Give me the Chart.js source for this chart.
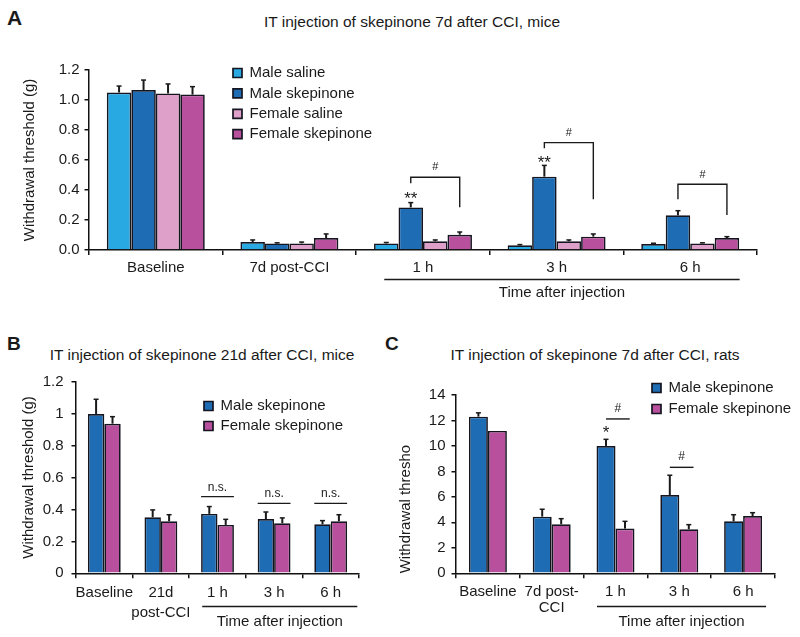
<!DOCTYPE html>
<html><head><meta charset="utf-8">
<script src="https://cdn.jsdelivr.net/npm/chart.js@4.4.1/dist/chart.umd.min.js"></script>
<style>
html,body{margin:0;padding:0;background:#fff;width:800px;height:637px;overflow:hidden;font-family:"Liberation Sans",Arial,sans-serif;color:#1a1a1a}
canvas{position:absolute}
.ttl{position:absolute;font-size:15.5px;line-height:18px;white-space:nowrap;transform:translateX(-50%)}
.let{position:absolute;font-weight:bold}
</style></head><body>
<div class="let" style="left:7px;top:7px;font-size:21px;line-height:21px">A</div>
<div class="ttl" style="left:412px;top:13px">IT injection of skepinone 7d after CCI, mice</div>
<div class="let" style="left:7px;top:334px;font-size:19px;line-height:19px">B</div>
<div class="ttl" style="left:202px;top:346px">IT injection of skepinone 21d after CCI, mice</div>
<div class="let" style="left:385px;top:334px;font-size:19px;line-height:19px">C</div>
<div class="ttl" style="left:595px;top:346px">IT injection of skepinone 7d after CCI, rats</div>
<canvas id="cA" width="800" height="310" style="left:0;top:0"></canvas>
<canvas id="cB" width="400" height="327" style="left:0;top:310px"></canvas>
<canvas id="cC" width="420" height="327" style="left:380px;top:310px"></canvas>
<script>
// ---------- Panel A data ----------
const catsA = ['Baseline', '7d post-CCI', '1 h', '3 h', '6 h'];
const maleSalineA = [1.05, 0.053, 0.044, 0.031, 0.04];
const maleSalineErrA = [0.043, 0.014, 0.006, 0.005, 0.005];
const maleSkepA = [1.067, 0.044, 0.284, 0.489, 0.231];
const maleSkepErrA = [0.066, 0.004, 0.032, 0.075, 0.031];
const femaleSalineA = [1.044, 0.044, 0.058, 0.058, 0.044];
const femaleSalineErrA = [0.063, 0.009, 0.009, 0.009, 0.004];
const femaleSkepA = [1.036, 0.08, 0.102, 0.089, 0.08];
const femaleSkepErrA = [0.053, 0.027, 0.018, 0.018, 0.009];
const yTicksA = [0, 0.2, 0.4, 0.6, 0.8, 1.0, 1.2];
const yTickLabelsA = ['0.0', '0.2', '0.4', '0.6', '0.8', '1.0', '1.2'];
const starsA = [{cat: 2, ds: 1, y: 0.373, t: '**'}, {cat: 3, ds: 1, y: 0.611, t: '**'}];
const bracketsA = [
  {cat: 2, from: 1, to: 3, top: 0.485, leftEnd: 0.445, rightEnd: 0.285, labelY: 0.556, t: '#'},
  {cat: 3, from: 1, to: 3, top: 0.716, leftEnd: 0.678, rightEnd: 0.338, labelY: 0.782, t: '#'},
  {cat: 4, from: 1, to: 3, top: 0.438, leftEnd: 0.338, rightEnd: 0.233, labelY: 0.5, t: '#'}
];

// ---------- Panel B data ----------
const catsB = ['Baseline', ['21d', 'post-CCI'], '1 h', '3 h', '6 h'];
const maleSkepB = [0.998, 0.351, 0.372, 0.34, 0.307];
const maleSkepErrB = [0.092, 0.046, 0.046, 0.044, 0.023];
const femaleSkepB = [0.937, 0.326, 0.303, 0.313, 0.326];
const femaleSkepErrB = [0.044, 0.041, 0.035, 0.034, 0.041];
const yTicksB = [0, 0.2, 0.4, 0.6, 0.8, 1, 1.2];
const yTickLabelsB = ['0', '0.2', '0.4', '0.6', '0.8', '1', '1.2'];
const nsB = [{cat: 2, y: 0.48, labelY: 0.539}, {cat: 3, y: 0.438, labelY: 0.501}, {cat: 4, y: 0.438, labelY: 0.497}];

// ---------- Panel C data ----------
const catsC = ['Baseline', ['7d post-', 'CCI'], '1 h', '3 h', '6 h'];
const maleSkepC = [12.3, 4.45, 10.0, 6.15, 4.08];
const maleSkepErrC = [0.3, 0.58, 0.52, 1.55, 0.52];
const femaleSkepC = [11.18, 3.85, 3.51, 3.46, 4.5];
const femaleSkepErrC = [0, 0.44, 0.57, 0.36, 0.26];
const yTicksC = [0, 2, 4, 6, 8, 10, 12, 14];
const yTickLabelsC = ['0', '2', '4', '6', '8', '10', '12', '14'];
const starsC = [{cat: 2, ds: 0, y: 11.39, t: '*'}];
const hashC = [{cat: 2, y: 12.12, labelY: 12.96}, {cat: 3, y: 8.32, labelY: 9.16}];

// ---------- styling ----------
const FONT = '"Liberation Sans", Arial, sans-serif';
const INK = '#1a1a1a';
const C_MSAL = '#29A9E1', C_MSKP = '#1E6CB4', C_FSAL = '#DEA0C9', C_FSKP = '#B8509D';
Chart.defaults.font.family = FONT;
Chart.defaults.color = INK;

function annotPlugin(spec) {
  return {
    id: 'annot' + spec.id,
    beforeDraw(chart) {
      const lg = chart.legend;
      if (lg && spec.legend) {
        const p = lg.options.labels.padding;
        const w = lg.width, h = lg.height;
        lg.left = spec.legend.x - p; lg.top = spec.legend.y - p;
        lg.right = lg.left + w; lg.bottom = lg.top + h;
      }
    },
    afterDatasetsDraw(chart) {
      const ctx = chart.ctx, xs = chart.scales.x, ys = chart.scales.y;
      ctx.save();
      ctx.strokeStyle = INK; ctx.fillStyle = INK;
      // error bars
      spec.errs.forEach((errArr, di) => {
        const meta = chart.getDatasetMeta(di);
        const vals = chart.data.datasets[di].data;
        meta.data.forEach((bar, i) => {
          const e = errArr[i];
          if (!e) return;
          const yTop = ys.getPixelForValue(vals[i] + e);
          ctx.lineWidth = 2;
          ctx.beginPath(); ctx.moveTo(bar.x, bar.y); ctx.lineTo(bar.x, yTop); ctx.stroke();
          ctx.lineWidth = 1.5;
          ctx.beginPath(); ctx.moveTo(bar.x - 2.5, yTop); ctx.lineTo(bar.x + 2.5, yTop); ctx.stroke();
        });
      });
      ctx.textAlign = 'center';
      // stars
      (spec.stars || []).forEach(s => {
        const bar = chart.getDatasetMeta(s.ds).data[s.cat];
        ctx.font = '17px ' + FONT; ctx.textBaseline = 'alphabetic';
        ctx.fillText(s.t, bar.x, ys.getPixelForValue(s.y) + 0.57 * 17);
      });
      // brackets
      (spec.brackets || []).forEach(b => {
        const xL = chart.getDatasetMeta(b.from).data[b.cat].x;
        const xR = chart.getDatasetMeta(b.to).data[b.cat].x;
        const yT = ys.getPixelForValue(b.top);
        ctx.lineWidth = 1.4;
        ctx.beginPath();
        ctx.moveTo(xL, ys.getPixelForValue(b.leftEnd)); ctx.lineTo(xL, yT);
        ctx.lineTo(xR, yT); ctx.lineTo(xR, ys.getPixelForValue(b.rightEnd));
        ctx.stroke();
        ctx.font = '11px ' + FONT; ctx.textBaseline = 'middle';
        ctx.fillText(b.t, (xL + xR) / 2, ys.getPixelForValue(b.labelY));
      });
      // n.s. lines (span the bar pair)
      (spec.ns || []).forEach(n => {
        const b0 = chart.getDatasetMeta(0).data[n.cat], b1 = chart.getDatasetMeta(1).data[n.cat];
        const xL = b0.x - b0.width / 2, xR = b1.x + b1.width / 2, y = ys.getPixelForValue(n.y);
        ctx.lineWidth = 1.4;
        ctx.beginPath(); ctx.moveTo(xL, y); ctx.lineTo(xR, y); ctx.stroke();
        ctx.font = '12px ' + FONT; ctx.textBaseline = 'middle';
        ctx.fillText('n.s.', (xL + xR) / 2, ys.getPixelForValue(n.labelY));
      });
      // # lines
      (spec.hash || []).forEach(n => {
        const b0 = chart.getDatasetMeta(0).data[n.cat], b1 = chart.getDatasetMeta(1).data[n.cat];
        const xL = b0.x, xR = b1.x + b1.width * 0.25, y = ys.getPixelForValue(n.y);
        ctx.lineWidth = 1.4;
        ctx.beginPath(); ctx.moveTo(xL, y); ctx.lineTo(xR, y); ctx.stroke();
        ctx.font = '12px ' + FONT; ctx.textBaseline = 'middle';
        ctx.fillText('#', (xL + xR) / 2, ys.getPixelForValue(n.labelY));
      });
      // group underline + caption
      if (spec.group) {
        const c0 = xs.getPixelForValue(0), cw = xs.getPixelForValue(1) - c0;
        const x1 = c0 + spec.group.from * cw, x2 = c0 + spec.group.to * cw;
        const yl = Math.round(chart.chartArea.bottom + spec.group.lineDy) + 0.5;
        ctx.lineWidth = 1.3;
        ctx.beginPath(); ctx.moveTo(x1, yl); ctx.lineTo(x2, yl); ctx.stroke();
        ctx.font = '15px ' + FONT; ctx.textBaseline = 'middle';
        ctx.fillText('Time after injection', (x1 + x2) / 2, chart.chartArea.bottom + spec.group.textDy);
      }
      ctx.restore();
    }
  };
}

function ds(label, data, color) {
  return {label, data, backgroundColor: color, borderColor: '#151520', borderWidth: 1.7, borderSkipped: 'start'};
}

function makeChart(id, o) {
  return new Chart(document.getElementById(id), {
    type: 'bar',
    data: {labels: o.labels, datasets: o.datasets},
    options: {
      responsive: false, animation: false, devicePixelRatio: 1,
      layout: {padding: {left: 0, right: o.padRight, top: o.padTop, bottom: 0}},
      datasets: {bar: {categoryPercentage: o.catPct, barPercentage: 1}},
      plugins: {
        tooltip: {enabled: false},
        legend: {
          position: 'chartArea', align: 'start',
          labels: {boxWidth: 9, boxHeight: 9, padding: o.legendPad, color: INK, font: {size: 15, family: FONT}}
        }
      },
      scales: {
        x: {
          grid: {display: true, drawOnChartArea: false, drawTicks: true, tickLength: 5, color: '#111', lineWidth: 1.5, offset: true},
          border: {display: true, color: '#111', width: 1.5},
          ticks: {autoSkip: false, maxRotation: 0, minRotation: 0, padding: o.xPad, color: INK, font: {size: 15, family: FONT, lineHeight: o.xLineH}},
          afterFit: s => { s.height = o.xHeight; }
        },
        y: {
          min: 0, max: o.yTicks[o.yTicks.length - 1],
          afterBuildTicks: s => { s.ticks = o.yTicks.map(v => ({value: v})); },
          grid: {display: true, drawOnChartArea: false, drawTicks: true, tickLength: 4.5, color: '#111', lineWidth: 1.5},
          border: {display: true, color: '#111', width: 1.5},
          ticks: {callback: (v, i) => o.yLabels[i], padding: o.yPad, color: INK, font: {size: 15, family: FONT}},
          title: {display: true, text: o.yTitle, align: o.yTitleAlign || 'center', color: INK, font: {size: 15, family: FONT}, padding: {top: o.yTitlePad, bottom: 0}},
          afterFit: s => { s.width = o.yWidth; }
        }
      }
    },
    plugins: [annotPlugin(o.annot)]
  });
}

makeChart('cA', {
  labels: catsA,
  datasets: [ds('Male saline', maleSalineA, C_MSAL), ds('Male skepinone', maleSkepA, C_MSKP),
             ds('Female saline', femaleSalineA, C_FSAL), ds('Female skepinone', femaleSkepA, C_FSKP)],
  padRight: 43, padTop: 70, catPct: 0.733, legendPad: 5.4,
  xPad: 4, xLineH: 1.2, xHeight: 60,
  yTicks: yTicksA, yLabels: yTickLabelsA, yPad: 5, yTitle: 'Withdrawal threshold (g)', yTitlePad: 21, yWidth: 89,
  annot: {id: 'A', legend: {x: 233, y: 65.5},
    errs: [maleSalineErrA, maleSkepErrA, femaleSalineErrA, femaleSkepErrA],
    stars: starsA, brackets: bracketsA,
    group: {from: 1.71, to: 4.37, lineDy: 29, textDy: 43}}
});

makeChart('cB', {
  labels: catsB,
  datasets: [ds('Male skepinone', maleSkepB, C_MSKP), ds('Female skepinone', femaleSkepB, C_FSKP)],
  padRight: 41, padTop: 71.7, catPct: 0.58, legendPad: 5,
  xPad: 5, xLineH: 1.333, xHeight: 63.7,
  yTicks: yTicksB, yLabels: yTickLabelsB, yPad: 8, yTitle: 'Withdrawal threshold (g)', yTitlePad: 20, yWidth: 76,
  annot: {id: 'B', legend: {x: 204, y: 88.5},
    errs: [maleSkepErrB, femaleSkepErrB], ns: nsB,
    group: {from: 1.73, to: 4.47, lineDy: 32.7, textDy: 48.7}}
});

makeChart('cC', {
  labels: catsC,
  datasets: [ds('Male skepinone', maleSkepC, C_MSKP), ds('Female skepinone', femaleSkepC, C_FSKP)],
  padRight: 25, padTop: 85, catPct: 0.595, legendPad: 6,
  xPad: 5, xLineH: 1.11, xHeight: 63.7,
  yTicks: yTicksC, yLabels: yTickLabelsC, yPad: 6, yTitle: 'Withdrawal thresho', yTitleAlign: 'start', yTitlePad: 17, yWidth: 76,
  annot: {id: 'C', legend: {x: 272, y: 70.5},
    errs: [maleSkepErrC, femaleSkepErrC], stars: starsC, hash: hashC,
    group: {from: 1.71, to: 4.36, lineDy: 32.7, textDy: 48.7}}
});
</script>
</body></html>
